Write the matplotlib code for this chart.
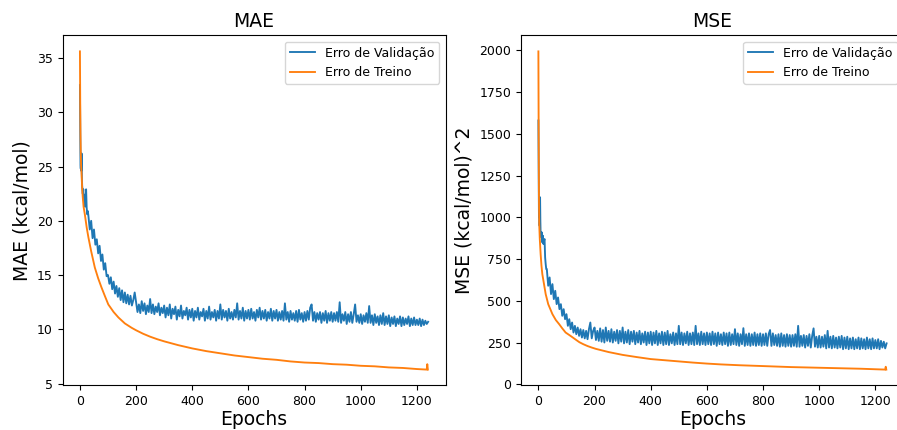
import matplotlib
matplotlib.use('Agg')
import matplotlib.pyplot as plt

# Epocas da validacao (densas no inicio)
val_epochs = [0, 1, 2, 3, 4, 5, 6, 7, 8, 10, 12, 14, 16, 18, 20, 22, 24, 26, 28] + list(range(30, 1241, 5))

# MAE - erro de validacao
mae_val = [
    32.5, 28.0, 25.2, 24.8, 25.5, 24.6, 26.2, 24.0, 23.2, 22.5, 22.9, 21.8, 22.4, 21.3, 22.0, 22.9, 21.2, 20.6, 20.9,
    20.5, 19.2, 20.0, 18.4, 19.2, 17.8, 18.3, 17.0, 17.7, 16.3, 16.9, 15.5, 16.1, 14.9,
    15.0, 14.2, 14.8, 13.7, 14.4, 13.3, 14.0, 13.0, 13.8, 12.7, 13.6, 12.5, 13.4, 12.4, 13.2, 12.3, 13.1, 12.2, 12.7, 13.4,
    12.5, 11.6, 12.3, 11.5, 12.6, 11.7, 12.4, 11.4, 12.2, 11.6, 12.8, 11.5, 12.3, 11.4, 12.1, 11.6, 12.4, 11.3, 12.0, 11.5,
    12.2, 11.1, 12.0, 11.3, 12.3, 11.0, 11.9, 11.4, 12.1, 10.9, 11.8, 11.2, 12.2, 11.0, 11.7, 11.3, 12.0, 10.9, 11.8, 11.1,
    11.9, 10.8, 11.7, 11.1, 12.0, 10.9, 11.6, 11.2, 11.9, 10.8, 11.7, 11.0, 12.1, 10.9, 11.6, 11.1, 11.8, 10.8, 11.7, 11.0,
    12.3, 10.9, 11.8, 11.1, 11.7, 10.8, 11.9, 11.0, 11.6, 10.9, 11.8, 11.1, 12.4, 10.9, 11.7, 11.0, 12.0, 10.8, 11.7, 11.0,
    11.8, 10.9, 11.9, 11.0, 11.6, 10.8, 11.8, 11.1, 12.0, 10.9, 11.7, 11.0, 11.8, 10.8, 11.6, 11.0, 11.9, 10.8, 11.7, 11.0,
    11.8, 10.8, 11.6, 10.9, 11.7, 10.8, 12.4, 10.9, 11.6, 10.7, 11.7, 10.9, 11.5, 10.8, 11.7, 10.7, 11.8, 10.9, 11.5, 10.7,
    11.6, 10.8, 11.7, 10.9, 12.0, 12.3, 10.8, 11.6, 10.7, 11.5, 10.9, 11.6, 10.6, 11.5, 10.8, 11.7, 10.6, 11.5, 10.8, 11.6,
    10.7, 11.5, 10.8, 11.6, 10.7, 12.5, 10.6, 11.4, 10.8, 11.6, 10.5, 11.4, 10.7, 11.6, 10.6, 11.4, 12.3, 10.7, 11.3, 10.6,
    11.4, 10.5, 11.3, 10.7, 11.5, 10.6, 12.15, 10.6, 11.3, 10.4, 11.4, 10.6, 11.2, 10.4, 11.3, 10.5, 11.5, 10.4, 11.2, 10.5,
    11.3, 10.3, 11.1, 10.5, 11.2, 10.3, 11.0, 10.5, 11.2, 10.3, 11.1, 10.4, 11.0, 10.5, 11.2, 10.3, 11.0, 10.4, 11.1, 10.4,
    10.9, 10.4, 11.0, 10.3, 10.9, 10.4, 10.8, 10.5, 10.7,
]

# MAE - erro de treino
mae_tr_epochs = [0, 1, 2, 3, 4, 6, 8, 10, 13, 18, 24, 30, 40, 53, 65, 77, 90, 101, 120, 137, 160, 184, 200,
                 225, 250, 275, 300, 350, 400, 450, 500, 550, 600, 650, 700, 750, 800, 850, 900, 950, 1000, 1050,
                 1100, 1150, 1200, 1235, 1237, 1239]
mae_tr = [35.6, 31.0, 28.0, 26.3, 25.2, 24.2, 23.0, 22.2, 21.3, 20.5, 19.4, 18.5, 17.2, 15.7, 14.7, 13.85,
          13.0, 12.3, 11.6, 11.1, 10.55, 10.15, 9.92, 9.6, 9.33, 9.1, 8.9, 8.55, 8.25, 8.0, 7.8, 7.6, 7.45,
          7.3, 7.2, 7.05, 6.95, 6.9, 6.8, 6.75, 6.65, 6.6, 6.5, 6.45, 6.35, 6.3, 6.8, 6.3]

# MSE - erro de validacao
mse_val = [
    1580, 1300, 1000, 1050, 950, 1000, 1120, 980, 900, 880, 910, 850, 890, 840, 860, 870, 760, 720, 690,
    690, 590, 640, 540, 600, 510, 560, 480, 520, 450, 480, 410, 450, 390,
    420, 350, 390, 330, 370, 310, 350, 300, 340, 290, 330, 280, 325, 275, 320, 270, 330, 370, 275, 320,
    340, 265, 320, 260, 335, 255, 325, 250, 340, 260, 320, 255, 330, 250, 315, 260, 325, 245, 320, 255,
    340, 245, 315, 250, 325, 240, 315, 255, 320, 240, 310, 250, 320, 240, 305, 250, 315, 235, 310, 245,
    315, 235, 310, 245, 320, 235, 305, 245, 315, 235, 310, 240, 320, 235, 300, 245, 310, 235, 305, 240,
    350, 240, 310, 235, 305, 245, 315, 235, 305, 240, 310, 235, 350, 240, 305, 235, 315, 240, 305, 235,
    310, 240, 305, 235, 315, 240, 305, 230, 310, 240, 300, 235, 310, 240, 305, 230, 310, 235, 300, 240,
    330, 235, 305, 230, 300, 240, 336, 230, 300, 235, 305, 230, 300, 235, 310, 230, 300, 235, 305, 230,
    300, 235, 305, 230, 300, 325, 230, 305, 235, 295, 230, 300, 225, 305, 230, 295, 225, 300, 230, 295,
    225, 295, 230, 300, 225, 350, 225, 290, 230, 295, 220, 290, 230, 300, 220, 290, 335, 225, 285, 220,
    290, 220, 285, 225, 295, 215, 320, 220, 285, 215, 290, 220, 280, 215, 285, 220, 290, 210, 280, 215,
    285, 210, 275, 215, 280, 210, 270, 215, 280, 210, 275, 215, 270, 210, 280, 215, 270, 210, 275, 215,
    265, 215, 270, 210, 260, 220, 255, 215, 245,
]

# MSE - erro de treino
mse_tr_epochs = [0, 1, 2, 3, 5, 8, 11, 14, 20, 26, 35, 50, 62, 74, 85, 97, 110, 121, 135, 146, 160, 175,
                 190, 205, 250, 300, 350, 400, 450, 500, 550, 600, 650, 716, 750, 800, 850, 900, 950, 1000,
                 1050, 1100, 1150, 1200, 1235, 1237, 1239]
mse_tr = [1994, 1500, 1120, 960, 870, 780, 710, 660, 600, 540, 480, 420, 385, 360, 335, 310, 295, 282,
          265, 252, 240, 229, 220, 212, 193, 176, 163, 151, 144, 137, 130, 124, 119, 114, 112, 109, 106,
          103, 101, 99, 97, 95, 93, 90, 88, 105, 88]

plt.rcParams['font.size'] = 9
fig = plt.figure(figsize=(8.97, 4.30), dpi=100)
ax1 = fig.add_axes([0.0697, 0.1035, 0.4270, 0.814])
ax2 = fig.add_axes([0.5808, 0.1035, 0.4270, 0.814])

# Grafico MAE
ax1.plot(val_epochs, mae_val, lw=1.35, label='Erro de Validação')
ax1.plot(mae_tr_epochs, mae_tr, lw=1.35, label='Erro de Treino')
ax1.set_title('MAE', fontsize=13.5)
ax1.set_xlabel('Epochs', fontsize=13.5, labelpad=1)
ax1.set_ylabel('MAE (kcal/mol)', fontsize=13.5)
ax1.legend(loc='upper right', fontsize=9)

# Grafico MSE
ax2.plot(val_epochs, mse_val, lw=1.35, label='Erro de Validação')
ax2.plot(mse_tr_epochs, mse_tr, lw=1.35, label='Erro de Treino')
ax2.set_title('MSE', fontsize=13.5)
ax2.set_xlabel('Epochs', fontsize=13.5, labelpad=1)
ax2.set_ylabel('MSE (kcal/mol)^2', fontsize=13.5)
ax2.legend(loc='upper right', fontsize=9)

fig.savefig('out.png', dpi=100)
